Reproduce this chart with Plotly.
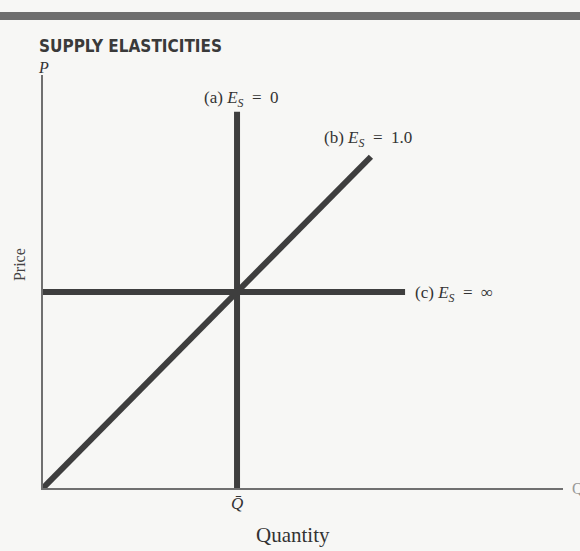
import plotly.graph_objects as go

# --- data (Q-bar and P-bar normalised to 1) ---
q_bar = 1.0
p_bar = 1.0
inelastic_q = [1.0, 1.0]          # (a) E_S = 0
inelastic_p = [0.0, 1.92]
unit_q = [0.0, 1.69]              # (b) E_S = 1.0
unit_p = [0.0, 1.69]
elastic_q = [0.0, 1.866]          # (c) E_S = inf
elastic_p = [1.0, 1.0]

x_range = [0, 2.68]
y_range = [0, 2.107]

line_color = "#3e3e3e"
text_color = "#333333"
bg = "#f7f7f5"
serif = "Liberation Serif, DejaVu Serif, serif"
NB = "\u00a0"
SP = NB * 2

fig = go.Figure()
for xs, ys in [(inelastic_q, inelastic_p), (unit_q, unit_p), (elastic_q, elastic_p)]:
    fig.add_trace(go.Scatter(x=xs, y=ys, mode="lines",
                             line=dict(color=line_color, width=6),
                             hoverinfo="skip", showlegend=False))

ann = dict(showarrow=False, font=dict(family=serif, size=17, color=text_color))
fig.add_annotation(x=inelastic_q[1], y=inelastic_p[1],
                   text=f"(a){NB}<i>E</i><sub><i>S</i></sub>{SP}={SP}0",
                   xanchor="center", yanchor="bottom", yshift=0, xshift=4, **ann)
fig.add_annotation(x=unit_q[1], y=unit_p[1],
                   text=f"(b){NB}<i>E</i><sub><i>S</i></sub>{SP}={SP}1.0",
                   xanchor="center", yanchor="bottom", yshift=5, xshift=-3, **ann)
fig.add_annotation(x=elastic_q[1], y=elastic_p[1],
                   text=f"(c){NB}<i>E</i><sub><i>S</i></sub>{SP}={SP}∞",
                   xanchor="left", yanchor="middle", xshift=8, yshift=-2, **ann)

# Q-bar label under axis
fig.add_annotation(x=q_bar, y=0, text="<i>Q\u0304</i>", xanchor="center", yanchor="top",
                   yshift=-4, **ann)
# axis end labels
fig.add_annotation(xref="paper", yref="paper", x=0, y=1.019, text="<i>P</i>",
                   xanchor="center", yanchor="middle",
                   showarrow=False, font=dict(family=serif, size=16, color=text_color))
fig.add_annotation(xref="paper", yref="paper", x=1, y=0, text="Q",
                   xanchor="left", yanchor="middle", xshift=7,
                   showarrow=False, font=dict(family=serif, size=16, color="#999"))
# axis titles
fig.add_annotation(xref="paper", yref="paper", x=-0.044, y=0.54, text="Price",
                   textangle=-90, xanchor="center", yanchor="middle",
                   showarrow=False, font=dict(family=serif, size=16, color="#444"))
fig.add_annotation(xref="paper", yref="paper", x=0.481, y=-0.114, text="Quantity",
                   xanchor="center", yanchor="middle",
                   showarrow=False, font=dict(family=serif, size=21, color=text_color))

# title
fig.add_annotation(xref="paper", yref="paper", x=-0.0115, y=1.0, yshift=29,
                   text="<b>SUPPLY ELASTICITIES</b>", xanchor="left", yanchor="middle",
                   showarrow=False,
                   font=dict(family="DejaVu Sans Condensed, DejaVu Sans", size=17, color="#3a3a3a"))

# top dark band (scanned rule)
fig.add_shape(type="line", xref="paper", yref="paper", x0=-0.1, x1=1.05, y0=1.143, y1=1.143,
              line=dict(color="#6e6e6e", width=8))

fig.update_layout(
    width=580, height=551,
    margin=dict(l=43, r=17, t=75, b=63),
    paper_bgcolor=bg, plot_bgcolor=bg,
    xaxis=dict(range=x_range, showgrid=False, zeroline=False, showline=True,
               linecolor="#707070", linewidth=1.5, tickvals=[], fixedrange=True),
    yaxis=dict(range=y_range, showgrid=False, zeroline=False, showline=True,
               linecolor="#707070", linewidth=1.5, tickvals=[], fixedrange=True),
)

fig.write_html("out.html", config={"displayModeBar": False},
               post_script="document.body.style.margin='0';document.body.style.background='%s';" % bg)
